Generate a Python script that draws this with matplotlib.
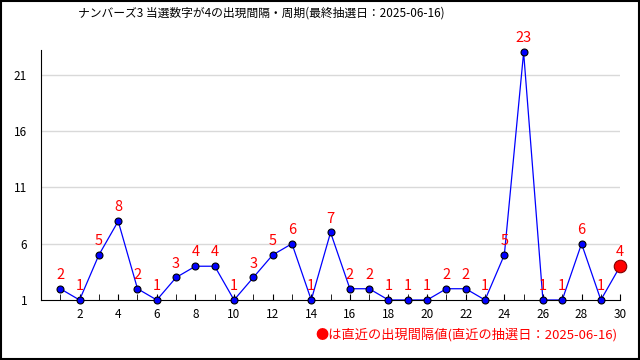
import matplotlib.pyplot as plt

plt.rcParams['font.family'] = ['Noto Sans CJK JP', 'DejaVu Sans']

# Draw number intervals (draw index 1..30).
draws = list(range(1, 31))
intervals = [2, 1, 5, 8, 2, 1, 3, 4, 4, 1, 3, 5, 6, 1, 7,
             2, 2, 1, 1, 1, 2, 2, 1, 5, 23, 1, 1, 6, 1, 4]
yticks = [1, 6, 11, 16, 21]
xticks = list(range(2, 31, 2))
title = "ナンバーズ3 当選数字が4の出現間隔・周期(最終抽選日：2025-06-16)"
note = "●は直近の出現間隔値(直近の抽選日：2025-06-16)"

fig = plt.figure(figsize=(6.4, 3.6), dpi=100)
ax = fig.add_axes([0.064, 0.1667, 0.905, 0.694])

# Grid lines behind the data
for t in yticks[1:]:
  ax.axhline(t, color="#d9d9d9", linewidth=1, zorder=0)

ax.plot(draws, intervals, color="blue", linewidth=0.9, zorder=2, clip_on=False)
ax.plot(draws[:-1], intervals[:-1], "o", color="blue", markeredgecolor="black",
        markeredgewidth=0.8, markersize=5, zorder=3, clip_on=False)
ax.plot(draws[-1], intervals[-1], "o", color="red", markeredgecolor="#800000",
        markeredgewidth=0.8, markersize=9, zorder=4, clip_on=False)

# Value labels above each point
for xv, yv in zip(draws, intervals):
  ax.annotate(str(yv), (xv, yv), xytext=(0, 5), textcoords="offset points",
              ha="center", va="bottom", color="red", fontsize=10.5, zorder=5)

ax.set_xlim(0, 30)
ax.set_ylim(1, 23.2)
ax.set_xticks(range(1, 31), minor=True)
ax.set_xticks(xticks)
ax.set_yticks(yticks)
ax.tick_params(axis="x", which="both", direction="in", length=4, labelsize=8.5, pad=6)
ax.tick_params(axis="y", length=0, labelsize=8.5, pad=10)
ax.spines["top"].set_visible(False)
ax.spines["right"].set_visible(False)

fig.text(0.408, 0.965, title, ha="center", va="center", fontsize=8.5)
fig.text(0.965, 0.07, note, ha="right", va="center", color="red", fontsize=9.5)

# Black frame around the whole image
fig.patches.append(plt.Rectangle((0.001, 0.002), 0.997, 0.996, transform=fig.transFigure,
                                 fill=False, edgecolor="black", linewidth=1.5))

fig.savefig("out.png", dpi=100)
